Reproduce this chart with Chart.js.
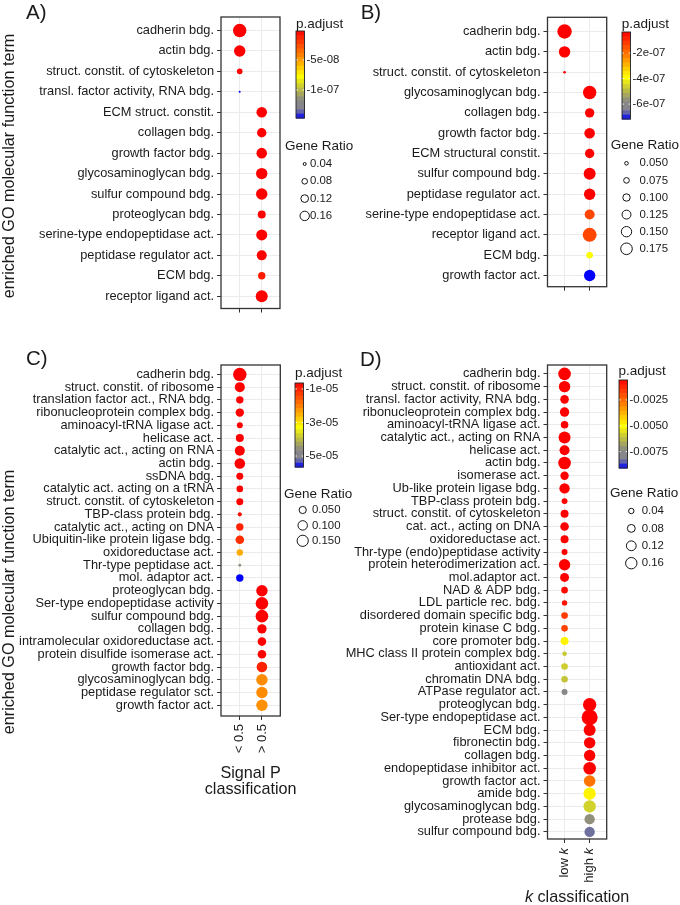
<!DOCTYPE html>
<html>
<head>
<meta charset="utf-8">
<script src="https://cdn.jsdelivr.net/npm/chart.js@4.4.1/dist/chart.umd.min.js"></script>
<style>
  body { margin: 0; background: #fff; }
  #wrap { position: relative; width: 680px; height: 905px; overflow: hidden; background: #fff; }
  canvas { position: absolute; }
</style>
</head>
<body>
<div id="wrap">
  <canvas id="chartA" width="380" height="345" style="left:0;top:0"></canvas>
  <canvas id="chartB" width="340" height="345" style="left:340px;top:0"></canvas>
  <canvas id="chartC" width="380" height="560" style="left:0;top:345px"></canvas>
  <canvas id="chartD" width="340" height="560" style="left:340px;top:345px"></canvas>
</div>
<script>
// ---- Panel A data ----
const aTerms = ['cadherin bdg.', 'actin bdg.', 'struct. constit. of cytoskeleton', 'transl. factor activity, RNA bdg.',
  'ECM struct. constit.', 'collagen bdg.', 'growth factor bdg.', 'glycosaminoglycan bdg.', 'sulfur compound bdg.',
  'proteoglycan bdg.', 'serine-type endopeptidase act.', 'peptidase regulator act.', 'ECM bdg.', 'receptor ligand act.'];
const aGroup = [0, 0, 0, 0, 1, 1, 1, 1, 1, 1, 1, 1, 1, 1];
const aRatio = [0.276, 0.214, 0.079, 0.0285, 0.191, 0.160, 0.191, 0.214, 0.214, 0.127, 0.203, 0.175, 0.114, 0.232];
const aPadj = [-2e-9, -2e-9, -3e-9, -1.467e-7, -2e-9, -2e-9, -2e-9, -2e-9, -2e-9, -2e-9, -2e-9, -2e-9, -1.0e-8, -2e-9];
const aLimits = [-1.467e-7, -2e-9];
const aBarTicks = [-5e-8, -1e-7];
const aBarLabels = ['-5e-08', '-1e-07'];
const aSizeTicks = [0.04, 0.08, 0.12, 0.16];
const aSizeLabels = ['0.04', '0.08', '0.12', '0.16'];

// ---- Panel B data ----
const bTerms = ['cadherin bdg.', 'actin bdg.', 'struct. constit. of cytoskeleton', 'glycosaminoglycan bdg.',
  'collagen bdg.', 'growth factor bdg.', 'ECM structural constit.', 'sulfur compound bdg.', 'peptidase regulator act.',
  'serine-type endopeptidase act.', 'receptor ligand act.', 'ECM bdg.', 'growth factor act.'];
const bGroup = [0, 0, 0, 1, 1, 1, 1, 1, 1, 1, 1, 1, 1];
const bRatio = [0.237, 0.171, 0.040, 0.214, 0.133, 0.155, 0.133, 0.183, 0.171, 0.144, 0.228, 0.088, 0.171];
const bPadj = [-3.5e-8, -3.5e-8, -3.5e-8, -3.5e-8, -3.5e-8, -3.5e-8, -3.5e-8, -3.5e-8, -3.5e-8,
  -1.37e-7, -1.37e-7, -3.96e-7, -7.17e-7];
const bLimits = [-7.17e-7, -3.5e-8];
const bBarTicks = [-2e-7, -4e-7, -6e-7];
const bBarLabels = ['-2e-07', '-4e-07', '-6e-07'];
const bSizeTicks = [0.05, 0.075, 0.1, 0.125, 0.15, 0.175];
const bSizeLabels = ['0.050', '0.075', '0.100', '0.125', '0.150', '0.175'];

// ---- Panel C data ----
const cTerms = ['cadherin bdg.', 'struct. constit. of ribosome', 'translation factor act., RNA bdg.',
  'ribonucleoprotein complex bdg.', 'aminoacyl-tRNA ligase act.', 'helicase act.', 'catalytic act., acting on RNA',
  'actin bdg.', 'ssDNA bdg.', 'catalytic act. acting on a tRNA', 'struct. constit. of cytoskeleton',
  'TBP-class protein bdg.', 'catalytic act., acting on DNA', 'Ubiquitin-like protein ligase bdg.',
  'oxidoreductase act.', 'Thr-type peptidase act.', 'mol. adaptor act.', 'proteoglycan bdg.',
  'Ser-type endopeptidase activity', 'sulfur compound bdg.', 'collagen bdg.', 'intramolecular oxidoreductase act.',
  'protein disulfide isomerase act.', 'growth factor bdg.', 'glycosaminoglycan bdg.', 'peptidase regulator sct.',
  'growth factor act.'];
const cGroup = [0, 0, 0, 0, 0, 0, 0, 0, 0, 0, 0, 0, 0, 0, 0, 0, 0, 1, 1, 1, 1, 1, 1, 1, 1, 1, 1];
const cRatio = [0.228, 0.114, 0.054, 0.074, 0.030, 0.066, 0.114, 0.131, 0.046, 0.040, 0.046, 0.009, 0.054, 0.079,
  0.036, 0.002, 0.054, 0.156, 0.198, 0.198, 0.098, 0.079, 0.079, 0.131, 0.156, 0.156, 0.156];
const cPadj = [-6.4e-6, -6.4e-6, -6.4e-6, -6.4e-6, -6.4e-6, -6.4e-6, -6.4e-6, -6.4e-6, -6.4e-6, -6.4e-6, -6.4e-6,
  -7.4e-6, -9.9e-6, -1.14e-5, -2.45e-5, -4.55e-5, -5.655e-5, -6.4e-6, -6.4e-6, -6.4e-6, -6.4e-6, -6.4e-6, -6.4e-6,
  -9.9e-6, -2.14e-5, -2.14e-5, -2.19e-5];
const cLimits = [-5.655e-5, -6.4e-6];
const cClasses = ['< 0.5', '> 0.5'];
const cBarTicks = [-1e-5, -3e-5, -5e-5];
const cBarLabels = ['-1e-05', '-3e-05', '-5e-05'];
const cSizeTicks = [0.05, 0.1, 0.15];
const cSizeLabels = ['0.050', '0.100', '0.150'];

// ---- Panel D data ----
const dTerms = ['cadherin bdg.', 'struct. constit. of ribosome', 'transl. factor activity, RNA bdg.',
  'ribonucleoprotein complex bdg.', 'aminoacyl-tRNA ligase act.', 'catalytic act., acting on RNA', 'helicase act.',
  'actin bdg.', 'isomerase act.', 'Ub-like protein ligase bdg.', 'TBP-class protein bdg.',
  'struct. constit. of cytoskeleton', 'cat. act., acting on DNA', 'oxidoreductase act.',
  'Thr-type (endo)peptidase activity', 'protein heterodimerization act.', 'mol.adaptor act.', 'NAD & ADP bdg.',
  'LDL particle rec. bdg.', 'disordered domain specific bdg.', 'protein kinase C bdg.', 'core promoter bdg.',
  'MHC class II protein complex bdg.', 'antioxidant act.', 'chromatin DNA bdg.', 'ATPase regulator act.',
  'proteoglycan bdg.', 'Ser-type endopeptidase act.', 'ECM bdg.', 'fibronectin bdg.', 'collagen bdg.',
  'endopeptidase inhibitor act.', 'growth factor act.', 'amide bdg.', 'glycosaminoglycan bdg.', 'protease bdg.',
  'sulfur compound bdg.'];
const dGroup = [0, 0, 0, 0, 0, 0, 0, 0, 0, 0, 0, 0, 0, 0, 0, 0, 0, 0, 0, 0, 0, 0, 0, 0, 0, 0,
  1, 1, 1, 1, 1, 1, 1, 1, 1, 1, 1];
const dRatio = [0.194, 0.160, 0.094, 0.111, 0.075, 0.176, 0.125, 0.194, 0.090, 0.134, 0.048, 0.082, 0.094, 0.082,
  0.048, 0.160, 0.102, 0.058, 0.040, 0.058, 0.058, 0.082, 0.030, 0.058, 0.058, 0.048,
  0.218, 0.306, 0.176, 0.160, 0.160, 0.194, 0.165, 0.188, 0.188, 0.134, 0.134];
const dPadj = [-0.00057, -0.00057, -0.00057, -0.00057, -0.00057, -0.00057, -0.00057, -0.00057, -0.00057, -0.00057,
  -0.00057, -0.00057, -0.00057, -0.00057, -0.00057, -0.00057, -0.00057, -0.00074, -0.00091, -0.00167, -0.00176,
  -0.00482, -0.00601, -0.00593, -0.0061, -0.0074,
  -0.00057, -0.00057, -0.00057, -0.00057, -0.00057, -0.00057, -0.00269, -0.00482, -0.00584, -0.0072, -0.00836];
const dLimits = [-0.00908, -0.00057];
const dClasses = ['low k', 'high k'];
const dBarTicks = [-0.0025, -0.005, -0.0075];
const dBarLabels = ['-0.0025', '-0.0050', '-0.0075'];
const dSizeTicks = [0.04, 0.08, 0.12, 0.16];
const dSizeLabels = ['0.04', '0.08', '0.12', '0.16'];

const FONT = '"Liberation Sans", Arial, Helvetica, sans-serif';
const INK = '#1a1a1a';
const yTitleText = 'enriched GO molecular function term';

// red -> orange -> yellow -> olive -> grey -> blue (top to bottom of the colour bar)
const gradStops = [[0, [255, 0, 0]], [0.3, [255, 140, 0]], [0.52, [255, 255, 0]], [0.65, [196, 196, 58]],
  [0.8, [136, 136, 136]], [0.9, [132, 132, 140]], [1, [0, 0, 255]]];

function gradColor(t) {
  t = Math.min(1, Math.max(0, t));
  for (let i = 1; i < gradStops.length; i++) {
    if (t <= gradStops[i][0]) {
      const [t0, c0] = gradStops[i - 1];
      const [t1, c1] = gradStops[i];
      const f = (t - t0) / (t1 - t0);
      const c = c0.map((v, k) => Math.round(v + (c1[k] - v) * f));
      return `rgb(${c[0]},${c[1]},${c[2]})`;
    }
  }
  return 'rgb(0,0,255)';
}

function padjColor(p, lim) {
  return gradColor((lim[1] - p) / (lim[1] - lim[0]));
}

// draw text where a standalone "k" is set in italics
function drawRich(ctx, text, x, y, size, align) {
  const words = text.split(' ');
  const parts = words.map((w, i) => ({ t: w + (i < words.length - 1 ? ' ' : ''), it: w === 'k' }));
  let total = 0;
  parts.forEach(p => {
    ctx.font = (p.it ? 'italic ' : '') + size + 'px ' + FONT;
    p.w = ctx.measureText(p.t).width;
    total += p.w;
  });
  let sx = align === 'center' ? x - total / 2 : align === 'right' ? x - total : x;
  ctx.textAlign = 'left';
  parts.forEach(p => {
    ctx.font = (p.it ? 'italic ' : '') + size + 'px ' + FONT;
    ctx.fillText(p.t, sx, y);
    sx += p.w;
  });
}

function decorPlugin(P) {
  return {
    id: 'decor',
    afterDraw(chart) {
      const ctx = chart.ctx;
      const ca = chart.chartArea;
      ctx.save();
      // panel frame
      ctx.strokeStyle = '#333';
      ctx.lineWidth = 1.3;
      ctx.strokeRect(ca.left, ca.top, ca.right - ca.left, ca.bottom - ca.top);

      ctx.translate(-P.canvas.left, -P.canvas.top);
      ctx.fillStyle = INK;
      ctx.textBaseline = 'alphabetic';

      // panel letter
      ctx.font = '20.5px ' + FONT;
      ctx.textAlign = 'left';
      ctx.fillText(P.letter.text, P.letter.x, P.letter.y);

      // y axis title
      if (P.yTitle) {
        ctx.save();
        ctx.translate(P.yTitle.x, P.yTitle.y);
        ctx.rotate(-Math.PI / 2);
        ctx.font = '16.2px ' + FONT;
        ctx.textAlign = 'center';
        ctx.fillText(yTitleText, 0, 0);
        ctx.restore();
      }

      // x axis title
      if (P.xTitle) {
        P.xTitle.lines.forEach((line, i) => {
          drawRich(ctx, line, P.xTitle.x, P.xTitle.y[i], 16.2, 'center');
        });
      }

      // rotated class labels with italics (panel D)
      if (P.richClasses) {
        const xs = chart.scales.x;
        ctx.textBaseline = 'middle';
        P.richClasses.forEach((lab, i) => {
          ctx.save();
          ctx.translate(xs.getPixelForValue(i) + P.canvas.left, P.richTop);
          ctx.rotate(-Math.PI / 2);
          drawRich(ctx, lab, 0, 0, 13, 'right');
          ctx.restore();
        });
        ctx.textBaseline = 'alphabetic';
      }

      // colour bar legend
      const B = P.bar;
      ctx.font = '13.5px ' + FONT;
      ctx.textAlign = 'left';
      ctx.textBaseline = 'middle';
      ctx.fillText('p.adjust', B.titleX, B.titleY);
      const nBin = 20;
      for (let i = 0; i < nBin; i++) {
        ctx.fillStyle = gradColor((i + 0.5) / nBin);
        ctx.fillRect(B.x, B.y + i * B.h / nBin, B.w, B.h / nBin + 0.6);
      }
      const lim = P.limits;
      ctx.font = '11.4px ' + FONT;
      P.barTicks.forEach((v, i) => {
        const yy = B.y + (lim[1] - v) / (lim[1] - lim[0]) * B.h;
        ctx.strokeStyle = '#fff';
        ctx.lineWidth = 1;
        ctx.beginPath();
        ctx.moveTo(B.x, yy); ctx.lineTo(B.x + 1.8, yy);
        ctx.moveTo(B.x + B.w - 1.8, yy); ctx.lineTo(B.x + B.w, yy);
        ctx.stroke();
        ctx.fillStyle = INK;
        ctx.fillText(P.barLabels[i], B.x + B.w + 2, yy);
      });
      ctx.strokeStyle = '#222';
      ctx.lineWidth = 0.9;
      ctx.strokeRect(B.x, B.y, B.w, B.h);

      // gene ratio legend
      const S = P.sizeLeg;
      ctx.fillStyle = INK;
      ctx.font = '13.5px ' + FONT;
      ctx.fillText('Gene Ratio', S.titleX, S.titleY);
      ctx.font = '11.4px ' + FONT;
      P.sizeTicks.forEach((v, i) => {
        const yy = S.y0 + i * S.dy;
        ctx.beginPath();
        ctx.arc(S.cx, yy, P.size(v), 0, Math.PI * 2);
        ctx.strokeStyle = '#111';
        ctx.lineWidth = 1;
        ctx.stroke();
        ctx.fillText(P.sizeLabels[i], S.lx, yy);
      });
      ctx.restore();
    }
  };
}

function makePanel(id, P) {
  const canvas = document.getElementById(id);
  const cw = canvas.width, ch = canvas.height;
  const aL = P.area.left - P.canvas.left;
  const aR = P.area.right - P.canvas.left;
  const aT = P.area.top - P.canvas.top;
  const aB = P.area.bottom - P.canvas.top;

  const points = P.terms.map((t, i) => ({ x: P.group[i], y: i, r: P.size(P.ratio[i]), p: P.padj[i] }));

  return new Chart(canvas, {
    type: 'bubble',
    data: {
      datasets: [{
        data: points,
        backgroundColor: c => padjColor(c.raw.p, P.limits),
        borderWidth: 0,
        hoverBorderWidth: 0
      }]
    },
    options: {
      responsive: false,
      animation: false,
      events: [],
      layout: {
        autoPadding: false,
        padding: { left: 0, top: aT, right: cw - aR, bottom: ch - aB - P.xAxisH }
      },
      plugins: { legend: { display: false }, tooltip: { enabled: false } },
      scales: {
        x: {
          type: 'linear',
          bounds: 'data',
          min: P.xRange[0],
          max: P.xRange[1],
          afterBuildTicks: s => { s.ticks = [{ value: 0 }, { value: 1 }]; },
          afterFit: s => { s.height = P.xAxisH; },
          border: { display: false },
          grid: { color: '#ebebeb', lineWidth: 1, tickLength: 4, tickColor: '#333', tickWidth: 1 },
          ticks: {
            autoSkip: false,
            minRotation: 90,
            maxRotation: 90,
            padding: 4,
            color: INK,
            font: { family: FONT, size: 13 },
            callback: v => (P.classes ? P.classes[v] : '')
          }
        },
        y: {
          type: 'linear',
          bounds: 'data',
          reverse: true,
          min: P.yRange[0],
          max: P.yRange[1],
          afterBuildTicks: s => { s.ticks = P.terms.map((_, i) => ({ value: i })); },
          afterFit: s => { s.width = aL; },
          border: { display: false },
          grid: { color: '#ebebeb', lineWidth: 1, tickLength: 4, tickColor: '#333', tickWidth: 1 },
          ticks: {
            autoSkip: false,
            padding: 3,
            color: INK,
            font: { family: FONT, size: 12.8 },
            callback: v => P.terms[v]
          }
        }
      }
    },
    plugins: [decorPlugin(P)]
  });
}

makePanel('chartA', {
  terms: aTerms, group: aGroup, ratio: aRatio, padj: aPadj, limits: aLimits,
  barTicks: aBarTicks, barLabels: aBarLabels, sizeTicks: aSizeTicks, sizeLabels: aSizeLabels,
  size: v => Math.max(0.8, -1.7 + 16 * Math.sqrt(v)),
  canvas: { left: 0, top: 0 },
  area: { left: 221, right: 280, top: 17, bottom: 308.5 },
  xRange: [-0.85, 1.83], yRange: [-0.66, 13.6], xAxisH: 20,
  letter: { text: 'A)', x: 26, y: 19 },
  yTitle: { x: 13.5, y: 166 },
  bar: { x: 296, y: 31, w: 8.5, h: 87, titleX: 296, titleY: 24 },
  sizeLeg: { titleX: 285, titleY: 146.5, cx: 304.7, lx: 310, y0: 164, dy: 17.3 }
});

makePanel('chartB', {
  terms: bTerms, group: bGroup, ratio: bRatio, padj: bPadj, limits: bLimits,
  barTicks: bBarTicks, barLabels: bBarLabels, sizeTicks: bSizeTicks, sizeLabels: bSizeLabels,
  size: v => Math.max(0.8, -2.78 + 20.5 * Math.sqrt(v)),
  canvas: { left: 340, top: 0 },
  area: { left: 547.5, right: 606.7, top: 17.3, bottom: 286.7 },
  xRange: [-0.68, 1.68], yRange: [-0.7, 12.55], xAxisH: 20,
  letter: { text: 'B)', x: 360.7, y: 19 },
  bar: { x: 622, y: 32, w: 8.5, h: 87, titleX: 621.7, titleY: 24 },
  sizeLeg: { titleX: 610.7, titleY: 145.5, cx: 626.5, lx: 639.5, y0: 163.3, dy: 17.1 }
});

makePanel('chartC', {
  terms: cTerms, group: cGroup, ratio: cRatio, padj: cPadj, limits: cLimits, classes: cClasses,
  barTicks: cBarTicks, barLabels: cBarLabels, sizeTicks: cSizeTicks, sizeLabels: cSizeLabels,
  size: v => Math.max(0.8, 0.87 + 12.22 * Math.sqrt(v)),
  canvas: { left: 0, top: 345 },
  area: { left: 221, right: 280.3, top: 365, bottom: 716 },
  xRange: [-0.85, 1.83], yRange: [-0.74, 26.85], xAxisH: 40,
  letter: { text: 'C)', x: 26, y: 365 },
  yTitle: { x: 13.5, y: 602 },
  xTitle: { lines: ['Signal P', 'classification'], x: 250.6, y: [777.5, 794.3] },
  bar: { x: 295, y: 383, w: 8.5, h: 84, titleX: 295, titleY: 373 },
  sizeLeg: { titleX: 284, titleY: 494, cx: 302.7, lx: 312, y0: 510, dy: 15.4 }
});

makePanel('chartD', {
  terms: dTerms, group: dGroup, ratio: dRatio, padj: dPadj, limits: dLimits, richClasses: dClasses, richTop: 848,
  barTicks: dBarTicks, barLabels: dBarLabels, sizeTicks: dSizeTicks, sizeLabels: dSizeLabels,
  size: v => Math.max(0.8, -0.3 + 15 * Math.sqrt(v)),
  canvas: { left: 340, top: 345 },
  area: { left: 547.5, right: 606.7, top: 365, bottom: 839 },
  xRange: [-0.68, 1.68], yRange: [-0.7, 36.56], xAxisH: 40,
  letter: { text: 'D)', x: 360, y: 366 },
  xTitle: { lines: ['k classification'], x: 577.1, y: [902] },
  bar: { x: 619, y: 380, w: 8.5, h: 88, titleX: 618.5, titleY: 371.7 },
  sizeLeg: { titleX: 610, titleY: 493.3, cx: 631.3, lx: 641.7, y0: 511, dy: 17.4 }
});
</script>
</body>
</html>
